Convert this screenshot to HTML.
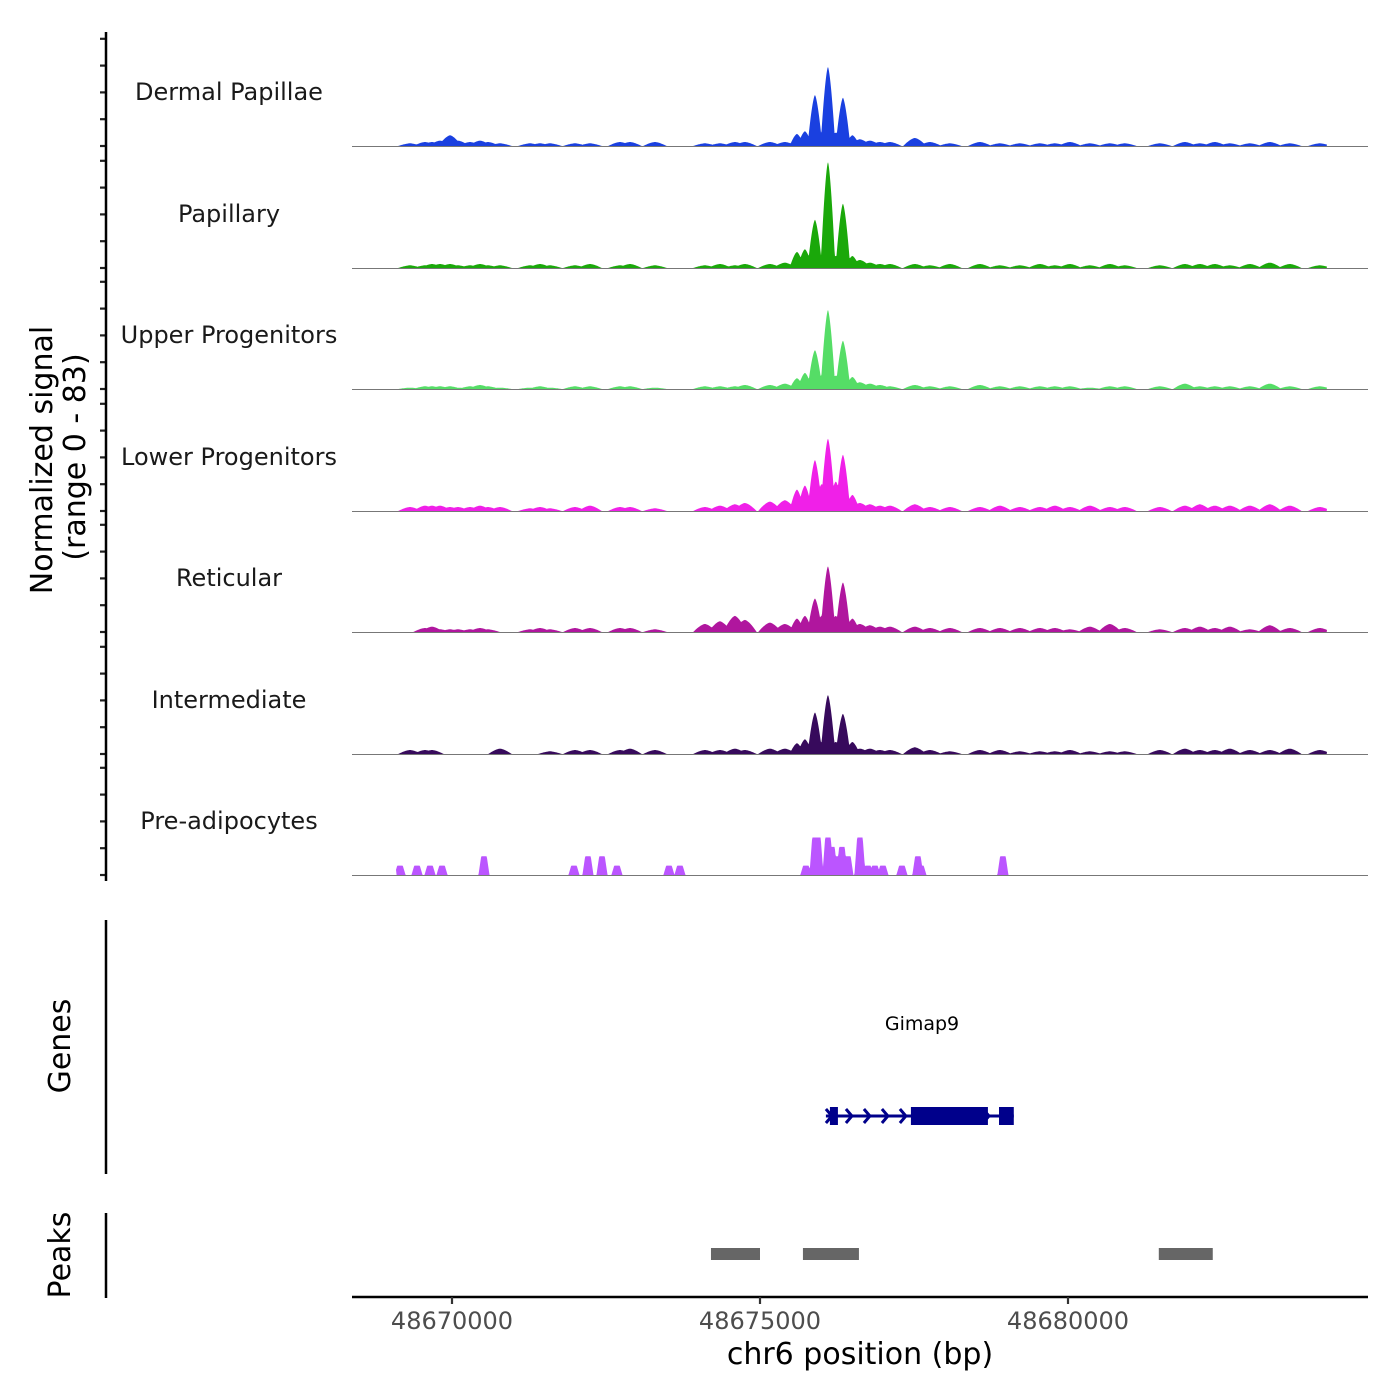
<!DOCTYPE html>
<html><head><meta charset="utf-8"><style>
html,body{margin:0;padding:0;background:#fff;}
svg{display:block;font-family:"DejaVu Sans","Liberation Sans",sans-serif;}
</style></head><body>
<svg id="chart" width="1400" height="1400" viewBox="0 0 1400 1400">
<g id="tracks"></g>
<g id="yaxis"></g>
<text transform="translate(52,460) rotate(-90)" text-anchor="middle" font-size="30" fill="#000">Normalized signal</text>
<text transform="translate(85,457) rotate(-90)" text-anchor="middle" font-size="30" fill="#000">(range 0 - 83)</text>
<line x1="106" y1="920" x2="106" y2="1174" stroke="#000" stroke-width="2.5"/>
<text transform="translate(70,1046) rotate(-90)" text-anchor="middle" font-size="30">Genes</text>
<line x1="106" y1="1213" x2="106" y2="1298" stroke="#000" stroke-width="2.5"/>
<text transform="translate(70,1255) rotate(-90)" text-anchor="middle" font-size="30">Peaks</text>
<g id="genes"></g>
<g id="peaks"></g>
<g id="xaxis"></g>
<text x="860" y="1364" text-anchor="middle" font-size="30">chr6 position (bp)</text>
</svg>
<script>
// ---- data ----
const trackNames = ["Dermal Papillae","Papillary","Upper Progenitors","Lower Progenitors","Reticular","Intermediate","Pre-adipocytes"];
const trackColors = ["#1a40e0","#1aa80a","#55dd66","#f020e8","#b0169e","#370a5c","#bb55ff"];
const mainPos = [48675600,48675729,48675892,48676000,48676103,48676230,48676346,48676500];
const dermalMain = [9,11,38,10,59,10,36,8];
const papillaryMain = [12,14,36,9,79,9,48,9];
const upperMain = [8,12,29,10,59,10,36,9];
const lowerMain = [16,19,38,20,54,22,42,12];
const reticularMain = [10,12,25,12,49,12,37,10];
const intermediateMain = [8,11,31,9,44,9,30,9];
const bgPos = [48669318,48669562,48669675,48669805,48669968,48670097,48670292,48670454,48670584,48670779,48671266,48671428,48671591,48671996,48672240,48672727,48672889,48673295,48674106,48674350,48674593,48674755,48675161,48675404,48676622,48676784,48676946,48677109,48677514,48677758,48678083,48678569,48678894,48679219,48679543,48679787,48680030,48680355,48680679,48680923,48681491,48681897,48682140,48682383,48682627,48682952,48683276,48683601,48684088];
const dermalBg = [2,3,3,4,8,4,3,4,3,2,2,2,2,2,2,3,3,3,2,2,3,3,3,3,5,4,3,3,6,3,2,3,2,2,2,2,3,2,2,2,2,3,2,3,2,2,3,2,2];
const papillaryBg = [2,2,3,3,3,2,2,3,2,2,2,3,2,2,3,2,3,2,2,3,2,3,3,4,6,4,3,3,3,2,3,3,2,2,3,2,3,2,3,2,2,3,3,3,2,3,4,3,2];
const upperBg = [1,2,2,2,2,1,2,3,2,1,1,2,1,2,2,2,2,1,2,2,2,3,3,4,5,4,3,2,3,2,2,3,2,2,2,2,2,1,2,2,2,4,2,2,2,2,4,2,2];
const lowerBg = [3,4,4,4,3,3,3,4,3,3,2,3,2,3,4,3,3,2,3,4,5,6,7,8,6,5,4,4,5,3,3,3,4,3,3,4,3,4,3,3,3,4,5,4,4,4,5,4,3];
const reticularBg = [0,3,4,2,2,2,2,3,2,0,2,3,2,3,3,3,3,2,6,8,12,9,7,6,6,5,4,4,4,3,3,3,3,3,3,3,2,4,6,3,2,3,4,3,4,2,5,3,3];
const intermediateBg = [3,3,3,0,0,0,0,0,0,4,0,0,2,3,3,3,4,3,3,3,4,3,4,4,4,4,3,3,5,3,2,3,3,2,2,2,3,2,2,2,3,4,3,3,4,3,3,4,3];
const preadipPos = [48669156,48669432,48669643,48669838,48670519,48671980,48672207,48672435,48672678,48673522,48673700,48675745,48675892,48675940,48676103,48676168,48676265,48676330,48676427,48676622,48676752,48676865,48676995,48677304,48677563,48677612,48678943];
const preadipVal = [7,7,7,7,14,7,14,14,7,7,7,7,28,28,28,21,14,21,14,28,7,7,7,7,14,7,14];
const geneStart = 48676070, geneEnd = 48679120;
const exonStarts = [48676135,48677450,48678880];
const exonEnds = [48676265,48678700,48679120];
const arrowPos = [48676070,48676395,48676687,48676979,48677271,48678620];
const peakStarts = [48674204,48675697,48681474];
const peakEnds = [48675000,48676606,48682350];
const xTicks = [48670000,48675000,48680000];
// ---- scales ----
const X0 = 352, X1 = 1368;
const xs = v => 452 + (v - 48670000) * 308 / 5000;
const yScale = 1.34;
const bases = [146,268,389,511,632,754,875];
const NS = "http://www.w3.org/2000/svg";
function mk(tag, attrs, parent){const e=document.createElementNS(NS,tag);for(const k in attrs)e.setAttribute(k,attrs[k]);parent.appendChild(e);return e;}
const mains=[dermalMain,papillaryMain,upperMain,lowerMain,reticularMain,intermediateMain];
const bgs=[dermalBg,papillaryBg,upperBg,lowerBg,reticularBg,intermediateBg];
const tracksG=document.getElementById('tracks');
const yaxisG=document.getElementById('yaxis');
for(let t=0;t<7;t++){
  const base=bases[t];
  let peaks=[];
  if(t<6){
    mainPos.forEach((p,i)=>peaks.push([p,mains[t][i],120]));
    bgPos.forEach((p,i)=>{if(bgs[t][i]>0)peaks.push([p,bgs[t][i],190]);});
  } else {
    preadipPos.forEach((p,i)=>peaks.push([p,preadipVal[i],90]));
  }
  let pts=[];
  const xa=xs(48669100), xb=xs(48684200);
  for(let x=Math.floor(xa);x<=Math.ceil(xb);x+=0.5){
    const bp=48670000+(x-452)*5000/308;
    let v=0;
    peaks.forEach(pk=>{const d=Math.abs(bp-pk[0]);const w=pk[2];if(d<w){let vv=t<6?pk[1]*(1-Math.pow(d/w,1.5)):pk[1]*Math.min(1,2*(1-d/w));if(vv>v)v=vv;}});
    pts.push(x.toFixed(1)+","+(base-v*yScale).toFixed(1));
  }
  const poly=mk('polygon',{points:xa.toFixed(1)+","+base+" "+pts.join(" ")+" "+xb.toFixed(1)+","+base,fill:trackColors[t]},tracksG);
  
  
  const bl=mk('line',{x1:X0,x2:X1,y1:base+0.5,y2:base+0.5,stroke:'#777','stroke-width':1},tracksG);
  
  
  const lab=mk('text',{x:229,y:base-46,'text-anchor':'middle','font-size':24,fill:'#1a1a1a'},tracksG);
  lab.textContent=trackNames[t];
  
  
  [0,20,40,60,80].forEach(v=>{
    const tk=mk('line',{x1:100,x2:106,y1:base-v*yScale,y2:base-v*yScale,stroke:'#222','stroke-width':2.2},yaxisG);
    
    
  });
}
const yl=mk('line',{x1:106,x2:106,y1:32,y2:881,stroke:'#000','stroke-width':2.5},yaxisG);


// genes
const gG=document.getElementById('genes');
const gl=mk('text',{x:922,y:1030,'text-anchor':'middle','font-size':19},gG);gl.textContent='Gimap9';


const gline=mk('line',{x1:xs(geneStart),x2:xs(geneEnd),y1:1116,y2:1116,stroke:'#00008b','stroke-width':3},gG);


exonStarts.forEach((s,i)=>{
  const r=mk('rect',{x:xs(s),y:1107,width:xs(exonEnds[i])-xs(s),height:18,fill:'#00008b'},gG);
  
  
});
arrowPos.forEach(p=>{
  const x=xs(p);
  const a=mk('polyline',{points:(x)+",1109 "+(x+6)+",1116 "+(x)+",1123",fill:'none',stroke:'#00008b','stroke-width':3},gG);
  
  
});
// peaks
const pG=document.getElementById('peaks');
peakStarts.forEach((s,i)=>{
  const r=mk('rect',{x:xs(s),y:1248,width:xs(peakEnds[i])-xs(s),height:12,fill:'#666'},pG);
  
  
});
// x axis
const xG=document.getElementById('xaxis');
const xl=mk('line',{x1:X0,x2:X1,y1:1297,y2:1297,stroke:'#000','stroke-width':2.5},xG);


xTicks.forEach(v=>{
  const tk=mk('line',{x1:xs(v),x2:xs(v),y1:1297,y2:1304,stroke:'#333','stroke-width':2.2},xG);
  
  
  const tl=mk('text',{x:xs(v),y:1329,'text-anchor':'middle','font-size':24,fill:'#4d4d4d'},xG);
  tl.textContent=v;
  
  
});
</script>
</body></html>
